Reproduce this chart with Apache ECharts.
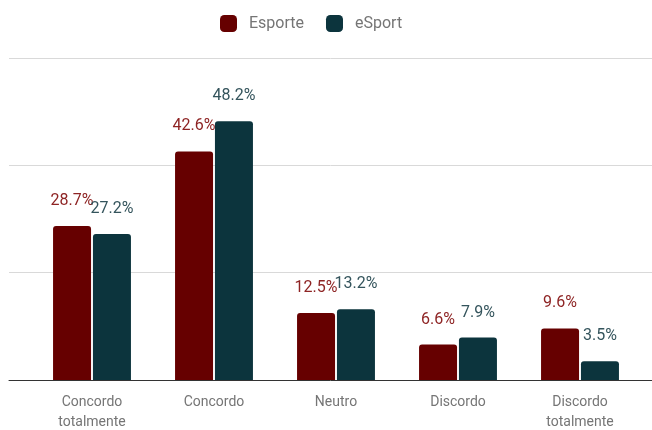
<!DOCTYPE html>
<html>
<head>
<meta charset="utf-8">
<script src="https://cdn.jsdelivr.net/npm/echarts@6/dist/echarts.min.js"></script>
<style>
  html, body { margin: 0; padding: 0; background: #fff; }
  #chart { width: 652px; height: 430px; }
</style>
</head>
<body>
<div id="chart"></div>
<script>
// Survey answers per category, in percent
const categories = ['Concordo\ntotalmente', 'Concordo', 'Neutro', 'Discordo', 'Discordo\ntotalmente'];
const esporte = [28.7, 42.6, 12.5, 6.6, 9.6];
const eSport = [27.2, 48.2, 13.2, 7.9, 3.5];
const seriesNames = ['Esporte', 'eSport'];

const FONT = 'Roboto, "Noto Sans", sans-serif';
const chart = echarts.init(document.getElementById('chart'), null, { renderer: 'canvas' });

function pct(p) { return p.value.toFixed(1) + '%'; }

chart.setOption({
  animation: false,
  textStyle: { fontFamily: FONT },
  legend: {
    data: seriesNames,
    left: 215,
    top: 10,
    itemWidth: 17,
    itemHeight: 17,
    itemGap: 22,
    icon: 'roundRect',
    textStyle: { fontFamily: FONT, fontSize: 16, color: '#757575', padding: [0, 0, 0, 7] }
  },
  grid: [
    // full-width backdrop: gridlines and baseline
    { left: 9, right: 0, top: 58, bottom: 50, outerBoundsMode: 'none', containLabel: false },
    // bar area
    { left: 31, right: 11, top: 58, bottom: 50, outerBoundsMode: 'none', containLabel: false }
  ],
  xAxis: [
    {
      gridIndex: 0, type: 'value', min: 0, max: 1, z: 5,
      axisLine: { show: true, onZero: false, lineStyle: { color: '#333', width: 1 } },
      axisTick: { show: false }, axisLabel: { show: false }, splitLine: { show: false }
    },
    {
      gridIndex: 1, type: 'category', data: categories,
      axisLine: { show: false }, axisTick: { show: false },
      axisLabel: { fontFamily: FONT, fontSize: 14, color: '#757575', lineHeight: 20, margin: 12, interval: 0 }
    }
  ],
  yAxis: [
    {
      gridIndex: 0, type: 'value', min: 0, max: 60, interval: 20,
      axisLine: { show: false }, axisTick: { show: false }, axisLabel: { show: false },
      splitLine: { show: true, lineStyle: { color: '#d9d9d9', width: 1 } }
    },
    {
      gridIndex: 1, type: 'value', min: 0, max: 60, interval: 20,
      axisLine: { show: false }, axisTick: { show: false }, axisLabel: { show: false },
      splitLine: { show: false }
    }
  ],
  series: [
    {
      name: seriesNames[0], type: 'bar', xAxisIndex: 1, yAxisIndex: 1,
      data: esporte, barWidth: 38, barGap: '5%',
      itemStyle: { color: '#660000', borderRadius: [3, 3, 0, 0] },
      label: { show: true, position: 'top', distance: 17, formatter: pct,
               fontFamily: FONT, fontSize: 16, color: '#8e2424' }
    },
    {
      name: seriesNames[1], type: 'bar', xAxisIndex: 1, yAxisIndex: 1,
      data: eSport, barWidth: 38, barGap: '5%',
      itemStyle: { color: '#0c343d', borderRadius: [3, 3, 0, 0] },
      label: { show: true, position: 'top', distance: 17, formatter: pct,
               fontFamily: FONT, fontSize: 16, color: '#34545c' }
    }
  ]
});
</script>
</body>
</html>
